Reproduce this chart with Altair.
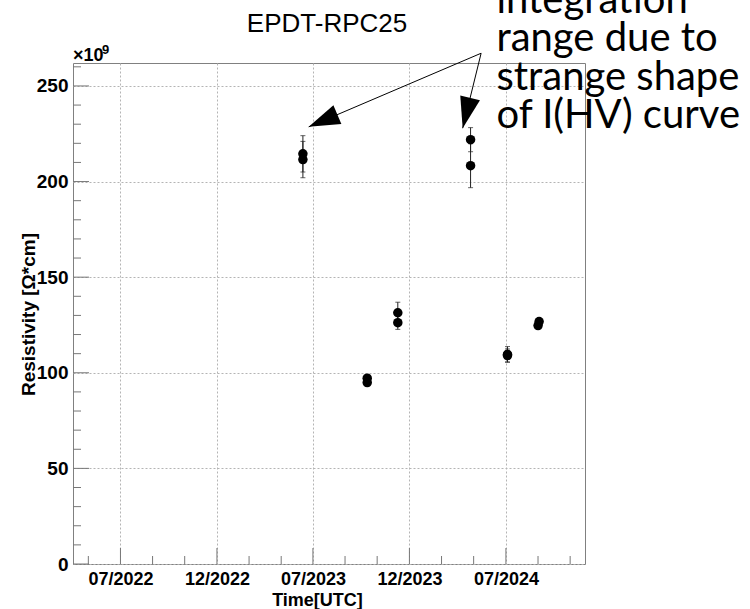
import altair as alt
import pandas as pd

# ---------------- data ----------------
chart_title = "EPDT-RPC25"
dates = ["2023-06-12", "2023-06-12", "2023-10-12", "2023-10-12",
         "2023-12-09", "2023-12-09", "2024-04-25", "2024-04-25",
         "2024-07-04", "2024-07-04", "2024-09-02", "2024-08-31"]
values = [214.5, 211.5, 97.2, 94.9, 131.4, 126.2, 221.9, 208.3, 109.7, 109.0, 126.8, 124.7]
errors = [9.5, 9.5, 1.0, 1.0, 5.5, 3.5, 6.3, 11.5, 4.0, 3.5, 1.5, 1.0]

tick_dates = ["2022-07-01", "2022-12-31", "2023-07-01", "2023-12-31", "2024-07-01"]
y_major = [0, 50, 100, 150, 200, 250]
y_minor = [10, 20, 30, 40, 60, 70, 80, 90, 110, 120, 130, 140, 160, 170, 180, 190,
           210, 220, 230, 240, 260]
x_domain = ["2022-04-02", "2024-11-28"]
y_domain = [0, 262]

note_lines = ["integration", "range due to", "strange shape", "of I(HV) curve"]
note_x = ["2024-06-13"]
note_y = [288.2]
arrow_start_x = ["2024-05-15", "2024-05-15"]
arrow_start_y = [267.1, 267.1]
arrow_tip_x = ["2023-06-23", "2024-04-10"]
arrow_tip_y = [228.6, 227.9]
arrow_angle = [246.9, 193.8]

# ---------------- layout ----------------
W, H = 512, 501
PAD = {"left": 73, "top": 63, "right": 165, "bottom": 45}
FONT = "Liberation Sans"


def dt(s):
    t = pd.Timestamp(s)
    return alt.DateTime(year=t.year, month=t.month, date=t.day, utc=True)


xscale = alt.Scale(type="utc", domain=[dt(d) for d in x_domain])
yscale = alt.Scale(domain=y_domain, nice=False, zero=False)

df = pd.DataFrame({"date": dates, "value": values, "err": errors})
df["lo"] = df["value"] - df["err"]
df["hi"] = df["value"] + df["err"]

# minor x ticks: thirds between the major ticks (axis decoration only)
maj = pd.to_datetime(pd.Series(tick_dates))
step = (maj.iloc[-1] - maj.iloc[0]) / (len(maj) - 1)
minor_x = [maj.iloc[0] - step / 3]
for t in maj:
    minor_x += [t + step / 3, t + 2 * step / 3]
minor_x = [m.strftime("%Y-%m-%dT%H:%M:%SZ") for m in minor_x]

x_axis = alt.Axis(
    values=[dt(d) for d in tick_dates],
    labelExpr="utcFormat(datum.value, '%m/%Y')",
    ticks=False, domain=False, grid=True, gridDash=[2, 2], gridColor="#b4b4b4",
    labelFont=FONT, labelFontWeight="bold", labelFontSize=18, labelColor="black",
    labelPadding=6, labelFlush=False, labelOverlap=False,
    title="Time[UTC]", titleFont=FONT, titleFontWeight="bold", titleFontSize=18,
    titleColor="black", titleX=244, titleY=41, titleBaseline="alphabetic",
)
y_axis = alt.Axis(
    values=y_major, ticks=False, domain=False, grid=True, gridDash=[2, 2],
    gridColor="#b4b4b4",
    labelFont=FONT, labelFontWeight="bold", labelFontSize=19, labelColor="black",
    labelPadding=5, labelFlush=False, labelOverlap=False,
    title="Resistivity [Ω*cm]", titleFont=FONT, titleFontWeight="bold", titleFontSize=19,
    titleColor="black", titleX=-39, titleY=251, titleBaseline="alphabetic",
)

base = alt.Chart(df)

frame_pts = base.mark_point(opacity=0).encode(
    x=alt.X("date:T", scale=xscale, axis=x_axis),
    y=alt.Y("value:Q", scale=yscale, axis=y_axis),
)

err = base.mark_rule(color="#222222", strokeWidth=1).encode(
    x=alt.X("date:T", scale=xscale),
    y=alt.Y("lo:Q", scale=yscale), y2="hi:Q",
)
cap_lo = base.mark_tick(orient="horizontal", size=5, thickness=1, color="#222222").encode(
    x=alt.X("date:T", scale=xscale), y=alt.Y("lo:Q", scale=yscale))
cap_hi = base.mark_tick(orient="horizontal", size=5, thickness=1, color="#222222").encode(
    x=alt.X("date:T", scale=xscale), y=alt.Y("hi:Q", scale=yscale))

pts = base.mark_point(filled=True, shape="circle", size=90, color="black", opacity=1).encode(
    x=alt.X("date:T", scale=xscale), y=alt.Y("value:Q", scale=yscale))

# ROOT-style inward ticks
tick_col = "#777777"
ymaj_df = pd.DataFrame({"v": y_major})
ymin_df = pd.DataFrame({"v": y_minor})
xmaj_df = pd.DataFrame({"d": tick_dates})
xmin_df = pd.DataFrame({"d": minor_x})

y_maj_ticks = alt.Chart(ymaj_df).mark_rule(color=tick_col, strokeWidth=1).encode(
    y=alt.Y("v:Q", scale=yscale), x=alt.value(0), x2=alt.value(16))
y_min_ticks = alt.Chart(ymin_df).mark_rule(color=tick_col, strokeWidth=1).encode(
    y=alt.Y("v:Q", scale=yscale), x=alt.value(0), x2=alt.value(8))
x_maj_ticks = alt.Chart(xmaj_df).mark_rule(color=tick_col, strokeWidth=1).encode(
    x=alt.X("d:T", scale=xscale), y=alt.value(H), y2=alt.value(H - 16))
x_min_ticks = alt.Chart(xmin_df).mark_rule(color=tick_col, strokeWidth=1).encode(
    x=alt.X("d:T", scale=xscale), y=alt.value(H), y2=alt.value(H - 8))

# annotation arrows
arr_df = pd.DataFrame({"x": arrow_start_x, "y": arrow_start_y,
                       "x2": arrow_tip_x, "y2": arrow_tip_y, "ang": arrow_angle})
arrow_lines = alt.Chart(arr_df).mark_rule(color="black", strokeWidth=1).encode(
    x=alt.X("x:T", scale=xscale), x2="x2:T",
    y=alt.Y("y:Q", scale=yscale), y2="y2:Q")
arrow_heads = alt.Chart(arr_df).mark_point(
    shape="M0,0 L-0.65,2 L0.65,2 Z", filled=True, color="black", opacity=1, size=973
).encode(
    x=alt.X("x2:T", scale=xscale), y=alt.Y("y2:Q", scale=yscale),
    angle=alt.Angle("ang:Q", scale=None))

note_df = pd.DataFrame({"x": note_x, "y": note_y, "t": ["\n".join(note_lines)]})
note = alt.Chart(note_df).mark_text(
    align="left", baseline="alphabetic", font="Lato", fontSize=40,
    lineBreak="\n", lineHeight=38.5, color="black"
).encode(x=alt.X("x:T", scale=xscale), y=alt.Y("y:Q", scale=yscale), text="t:N")

title_df = pd.DataFrame({"t": [chart_title]})
title_mark = alt.Chart(title_df).mark_text(
    align="center", baseline="alphabetic", font=FONT, fontSize=26, color="black"
).encode(x=alt.value(W / 2 - 2), y=alt.value(-31), text="t:N")

exp_df = pd.DataFrame({"a": ["×10"], "b": ["9"]})
exp_main = alt.Chart(exp_df).mark_text(
    align="left", baseline="alphabetic", font=FONT, fontSize=18, fontWeight="bold",
    color="black").encode(x=alt.value(0), y=alt.value(-2), text="a:N")
exp_sup = alt.Chart(exp_df).mark_text(
    align="left", baseline="alphabetic", font=FONT, fontSize=13, fontWeight="bold",
    color="black").encode(x=alt.value(29), y=alt.value(-9), text="b:N")

chart = alt.layer(
    frame_pts, y_min_ticks, y_maj_ticks, x_min_ticks, x_maj_ticks,
    err, cap_lo, cap_hi, pts, arrow_lines, arrow_heads, note, title_mark,
    exp_main, exp_sup,
).properties(
    width=W, height=H,
    padding=PAD,
    autosize=alt.AutoSizeParams(type="none"),
    background="white",
).configure_view(stroke="#808080", strokeWidth=1)

chart.save("out.html", embed_options={"renderer": "svg", "actions": False})
